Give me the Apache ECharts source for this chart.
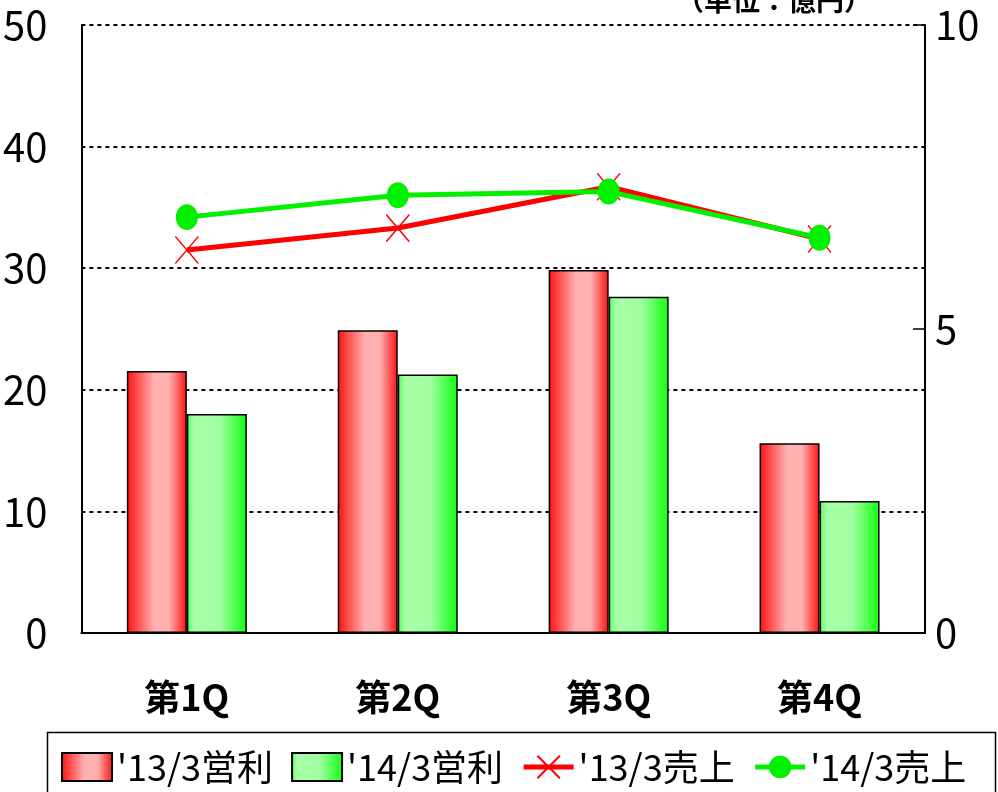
<!DOCTYPE html>
<html><head><meta charset="utf-8">
<script src="https://cdn.jsdelivr.net/npm/echarts@6/dist/echarts.min.js"></script>
<style>html,body{margin:0;padding:0;background:#fff}#c{width:998px;height:792px}</style>
</head><body><div id="c"></div>
<script>
const categories = ['第1Q', '第2Q', '第3Q', '第4Q'];
const profit13 = [4.31, 4.98, 5.97, 3.12];
const profit14 = [3.60, 4.25, 5.53, 2.17];
const sales13 = [31.5, 33.3, 36.7, 32.4];
const sales14 = [34.2, 36.0, 36.3, 32.5];
const seriesNames = ["'13/3営利", "'14/3営利", "'13/3売上", "'14/3売上"];
const unitText = '（単位：億円）';

const FONT = "'Noto Sans CJK JP',sans-serif";
const chart = echarts.init(document.getElementById('c'), null, {renderer: 'canvas'});
const redGrad = new echarts.graphic.LinearGradient(0, 0, 1, 0, [
  {offset: 0, color: '#ff1010'}, {offset: 0.45, color: '#ffb0b0'},
  {offset: 0.7, color: '#ffb0b0'}, {offset: 1, color: '#ff1010'}]);
const greenGrad = new echarts.graphic.LinearGradient(0, 0, 1, 0, [
  {offset: 0, color: '#50ff50'}, {offset: 0.12, color: '#a8ffa8'},
  {offset: 0.55, color: '#a0ffa0'}, {offset: 1, color: '#10ff10'}]);
const XSYM = 'path://M0,0L10,12M10,0L0,12';

chart.setOption({
  animation: false,
  backgroundColor: '#fff',
  grid: {left: 80, right: 73, top: 25, bottom: 159},
  graphic: [
    {type: 'rect', left: 45, top: 730, shape: {width: 948, height: 80},
     style: {fill: 'none', stroke: '#000', lineWidth: 1.5}},
    {type: 'text', left: 676, top: -14,
     style: {text: unitText, font: "bold 28px 'Noto Sans CJK JP'", fill: '#000'}}
  ],
  legend: {
    left: 56, top: 744, itemWidth: 50, itemHeight: 28, itemGap: 18,
    textStyle: {fontSize: 36, fontFamily: FONT, color: '#000'},
    data: [
      {name: seriesNames[0], icon: 'rect'},
      {name: seriesNames[1], icon: 'rect'},
      {name: seriesNames[2], lineStyle: {width: 5, color: '#ff0000'}},
      {name: seriesNames[3], lineStyle: {width: 5, color: '#00f000'}}
    ]
  },
  xAxis: {
    type: 'category', data: categories, boundaryGap: true,
    axisLine: {lineStyle: {color: '#000', width: 2}},
    axisTick: {inside: true, length: 14, lineStyle: {color: '#000', width: 1.5}},
    axisLabel: {margin: 46, fontSize: 36, fontWeight: 'bold', fontFamily: FONT, color: '#000'}
  },
  yAxis: [
    {type: 'value', min: 0, max: 50, interval: 10, position: 'left',
     axisLine: {show: true, lineStyle: {color: '#000', width: 2}},
     axisTick: {show: false},
     axisLabel: {margin: 34, fontSize: 40, fontFamily: FONT, color: '#000'},
     splitLine: {show: true, lineStyle: {color: '#000', width: 2, type: [4, 4]}}},
    {type: 'value', min: 0, max: 10, interval: 5, position: 'right',
     axisLine: {show: true, lineStyle: {color: '#000', width: 2}},
     axisTick: {show: true, inside: true, length: 12, lineStyle: {color: '#000', width: 1.5}},
     axisLabel: {margin: 10, fontSize: 40, fontFamily: FONT, color: '#000'},
     splitLine: {show: false}}
  ],
  series: [
    {name: seriesNames[0], type: 'bar', yAxisIndex: 1, data: profit13, barWidth: 60, barGap: '0%',
     itemStyle: {color: redGrad, borderColor: '#000', borderWidth: 1.5}},
    {name: seriesNames[1], type: 'bar', yAxisIndex: 1, data: profit14, barWidth: 60, barGap: '0%',
     itemStyle: {color: greenGrad, borderColor: '#000', borderWidth: 1.5}},
    {name: seriesNames[2], type: 'line', yAxisIndex: 0, data: sales13,
     symbol: XSYM, symbolSize: [23, 27],
     lineStyle: {color: '#ff0000', width: 5},
     itemStyle: {color: '#ff0000', borderColor: '#ff0000', borderWidth: 1.5}},
    {name: seriesNames[3], type: 'line', yAxisIndex: 0, data: sales14,
     symbol: 'circle', symbolSize: [22, 26],
     lineStyle: {color: '#00f000', width: 5},
     itemStyle: {color: '#00f000', borderWidth: 0}}
  ]
});
</script></body></html>
